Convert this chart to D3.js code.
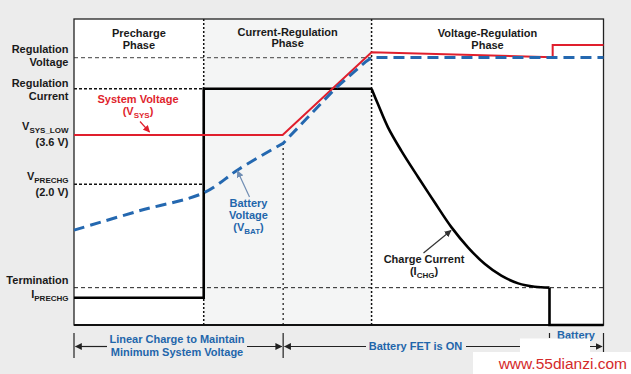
<!DOCTYPE html>
<html>
<head>
<meta charset="utf-8">
<script src="https://cdn.jsdelivr.net/npm/d3@7"></script>
<style>
  html, body { margin: 0; padding: 0; background: #ececec; }
  svg { display: block; font-family: "Liberation Sans", Arial, sans-serif; }
</style>
</head>
<body>
<div id="graph-container"></div>
<script>
// time axis is 0..100 (arbitrary), level axis is 0..100 (arbitrary units)
const phaseBounds = [0, 24.5, 56.2, 100];
const fetOnTime = 39.5;
const termTime = 89.8;

const levels = {
  regV: 87.4,
  regI: 77.2,
  vsysLow: 62.1,
  vprechg: 46.0,
  term: 12.2,
  iprechg: 8.9,
};

// system voltage
const vsys = [
  [0, 62.1], [39.4, 62.1], [56.2, 89.1], [90.4, 87.5], [90.4, 91.5], [100, 91.5],
];

// battery voltage: precharge curve, then fast rise, then flat
const vbatPre = [[0, 31.0], [12.5, 37.4], [24.5, 43.2], [31.2, 51.0], [39.5, 59.4]];
const vbatReg = [[39.5, 59.4], [49.3, 77.2], [55.0, 85.9], [56.2, 87.4], [100, 87.4]];

// charge current: steps + taper
const ichgStep = [[0, 8.9], [24.5, 8.9], [24.5, 77.2], [56.2, 77.2]];
const ichgTaper = [
  [56.2, 77.2], [57.4, 72.2], [59.3, 64.6], [61.8, 57.0], [65.0, 48.3],
  [68.1, 40.1], [71.3, 31.9], [74.4, 25.4], [77.6, 19.9], [80.7, 16.1],
  [83.9, 13.6], [87.0, 12.5], [89.8, 12.2],
];
const ichgEnd = [[89.8, 12.2], [89.8, 0], [100, 0]];

const phaseNames = [
  ["Precharge", "Phase"],
  ["Current-Regulation", "Phase"],
  ["Voltage-Regulation", "Phase"],
];

const width = 631;
const height = 374;
const margin = { top: 19, right: 27.5, bottom: 49, left: 74 };

const x = d3.scaleLinear().domain([0, 100]).range([margin.left, width - margin.right]);
const y = d3.scaleLinear().domain([0, 100]).range([height - margin.bottom, margin.top]);

const red = "#e01f2d";
const blue = "#2468b0";
const textBlue = "#1f66ab";

const svg = d3
  .select("#graph-container")
  .append("svg")
  .attr("width", width)
  .attr("height", height);

//plot area
svg.append("rect")
  .attr("x", x(0)).attr("y", y(100))
  .attr("width", x(100) - x(0)).attr("height", y(0) - y(100))
  .attr("fill", "#fff");

svg.append("rect")
  .attr("x", x(phaseBounds[1])).attr("y", y(100))
  .attr("width", x(phaseBounds[2]) - x(phaseBounds[1])).attr("height", y(0) - y(100))
  .attr("fill", "#f4f5f5");

//reference lines
function hline(x0, x1, v, dash, color, w) {
  svg.append("line")
    .attr("x1", x(x0)).attr("x2", x(x1))
    .attr("y1", y(v)).attr("y2", y(v))
    .attr("stroke", color).attr("stroke-width", w)
    .attr("stroke-dasharray", dash);
}
function vline(t, v0, v1, dash, color, w) {
  svg.append("line")
    .attr("x1", x(t)).attr("x2", x(t))
    .attr("y1", y(v0)).attr("y2", y(v1))
    .attr("stroke", color).attr("stroke-width", w)
    .attr("stroke-dasharray", dash);
}

hline(0, phaseBounds[2], levels.regV, "4,3", "#666", 1.2);
hline(0, phaseBounds[1], levels.regI, "3,2", "#111", 1.6);
hline(0, phaseBounds[1], levels.vprechg, "3,2", "#111", 1.6);
hline(0, 100, levels.term, "4,3", "#222", 1);

vline(phaseBounds[1], 0, 100, "2,2", "#111", 1.5);
vline(phaseBounds[2], 0, 100, "2,2", "#111", 1.5);
vline(fetOnTime, 0, 59.4, "2,3", "#111", 1.2);

//frame
svg.append("rect")
  .attr("x", x(0)).attr("y", y(100))
  .attr("width", x(100) - x(0)).attr("height", y(0) - y(100))
  .attr("fill", "none").attr("stroke", "#222").attr("stroke-width", 1.3);
svg.append("line")
  .attr("x1", x(0)).attr("x2", x(100)).attr("y1", y(0)).attr("y2", y(0))
  .attr("stroke", "#111").attr("stroke-width", 2);

//lines
const line = d3.line().x((d) => x(d[0])).y((d) => y(d[1]));
const curve = d3.line().x((d) => x(d[0])).y((d) => y(d[1])).curve(d3.curveMonotoneX);
const smooth = d3.line().x((d) => x(d[0])).y((d) => y(d[1])).curve(d3.curveCatmullRom.alpha(0.5));

svg.append("path").datum(ichgStep).attr("d", line)
  .attr("fill", "none").attr("stroke", "#000").attr("stroke-width", 2.6);
svg.append("path").datum(ichgTaper).attr("d", smooth)
  .attr("fill", "none").attr("stroke", "#000").attr("stroke-width", 2.6);
svg.append("path").datum(ichgEnd).attr("d", line)
  .attr("fill", "none").attr("stroke", "#000").attr("stroke-width", 2.6);

svg.append("path").datum(vsys).attr("d", line)
  .attr("fill", "none").attr("stroke", red).attr("stroke-width", 2);

svg.append("path")
  .attr("d", smooth(vbatPre) + line(vbatReg.slice(1)).replace("M", "L"))
  .attr("fill", "none").attr("stroke", blue).attr("stroke-width", 3)
  .attr("stroke-dasharray", "11,6");

//arrow markers
const defs = svg.append("defs");
function marker(id, color) {
  defs.append("marker")
    .attr("id", id)
    .attr("viewBox", "0 0 10 10")
    .attr("refX", 9).attr("refY", 5)
    .attr("markerWidth", 7).attr("markerHeight", 7)
    .attr("markerUnits", "userSpaceOnUse")
    .attr("orient", "auto")
    .append("path").attr("d", "M0,0L10,5L0,10z").attr("fill", color);
}
marker("ar-red", red);
marker("ar-blue", "#6f8db3");
marker("ar-black", "#333");
marker("ar-dim", "#222");

function pointer(x1, y1, x2, y2, color, id) {
  svg.append("line")
    .attr("x1", x1).attr("y1", y1).attr("x2", x2).attr("y2", y2)
    .attr("stroke", color).attr("stroke-width", 1.2)
    .attr("marker-end", `url(#${id})`);
}

//text helper with subscript
function label(g, xp, yp, parts, opts) {
  const t = g.append("text")
    .attr("x", xp).attr("y", yp)
    .attr("text-anchor", opts.anchor || "middle")
    .attr("font-size", opts.size || 11)
    .attr("font-weight", "bold")
    .attr("fill", opts.color || "#1a1a1a");
  let shifted = false;
  parts.forEach((p) => {
    if (typeof p === "string") {
      t.append("tspan").attr("dy", shifted ? -3 : null).text(p);
      shifted = false;
    } else {
      t.append("tspan").attr("font-size", 8).attr("dy", 3).text(p.sub);
      shifted = true;
    }
  });
  return t;
}

//phase titles
phaseNames.forEach((names, i) => {
  const cx = (x(phaseBounds[i]) + x(phaseBounds[i + 1])) / 2;
  names.forEach((n, j) => {
    label(svg, cx, (i === 1 ? 35.5 : 37) + j * 11.5, [n], {});
  });
});

//left level labels
const leftLabels = [
  { y: 53, parts: ["Regulation"] },
  { y: 66, parts: ["Voltage"] },
  { y: 87, parts: ["Regulation"] },
  { y: 100, parts: ["Current"] },
  { y: 130, parts: ["V", { sub: "SYS_LOW" }] },
  { y: 146, parts: ["(3.6 V)"] },
  { y: 180, parts: ["V", { sub: "PRECHG" }] },
  { y: 196, parts: ["(2.0 V)"] },
  { y: 284, parts: ["Termination"] },
  { y: 298, parts: ["I", { sub: "PRECHG" }] },
];
leftLabels.forEach((d) => label(svg, 68.5, d.y, d.parts, { anchor: "end" }));

//curve annotations
label(svg, 138, 103, ["System Voltage"], { color: red });
label(svg, 138, 115, ["(V", { sub: "SYS" }, ")"], { color: red });
pointer(140, 121.5, 149.5, 132, red, "ar-red");

label(svg, 248.5, 207, ["Battery"], { color: textBlue });
label(svg, 248.5, 219, ["Voltage"], { color: textBlue });
label(svg, 248.5, 231, ["(V", { sub: "BAT" }, ")"], { color: textBlue });
pointer(249.5, 197, 237.5, 171, "#6f8db3", "ar-blue");

label(svg, 424, 263, ["Charge Current"], {});
label(svg, 424, 275, ["(I", { sub: "CHG" }, ")"], {});
pointer(423.5, 253, 451, 230.5, "#333", "ar-black");

//bottom spans
const ay = 346.5;
function tick(xp, y0, y1) {
  svg.append("line").attr("x1", xp).attr("x2", xp).attr("y1", y0).attr("y2", y1)
    .attr("stroke", "#222").attr("stroke-width", 1.2);
}
tick(x(0), 333, 358);
tick(x(fetOnTime), 333, 358);
tick(x(100), 333, 352);
tick(x(termTime), 333, 338);

pointer(x(0) + 33, ay, x(0) + 1.5, ay, "#222", "ar-dim");
pointer(247, ay, x(fetOnTime) - 1.5, ay, "#222", "ar-dim");
pointer(366, ay, x(fetOnTime) + 1.5, ay, "#222", "ar-dim");
pointer(466, ay, x(100) - 1.5, ay, "#222", "ar-dim");

label(svg, 177, 343, ["Linear Charge to Maintain"], { color: textBlue });
label(svg, 177, 356, ["Minimum System Voltage"], { color: textBlue });
label(svg, 415.5, 349.5, ["Battery FET is ON"], { color: textBlue });
label(svg, 576, 339, ["Battery"], { color: textBlue });

//watermark
svg.append("rect").attr("x", 520).attr("y", 338.5).attr("width", 70).attr("height", 14).attr("fill", "#fff");
svg.append("rect").attr("x", 473).attr("y", 352).attr("width", 158).attr("height", 22).attr("fill", "#fff");
svg.append("text")
  .attr("x", 627).attr("y", 369)
  .attr("text-anchor", "end")
  .attr("font-size", 15.5)
  .attr("fill", "#d42a2a")
  .text("www.55dianzi.com");
</script>
</body>
</html>
